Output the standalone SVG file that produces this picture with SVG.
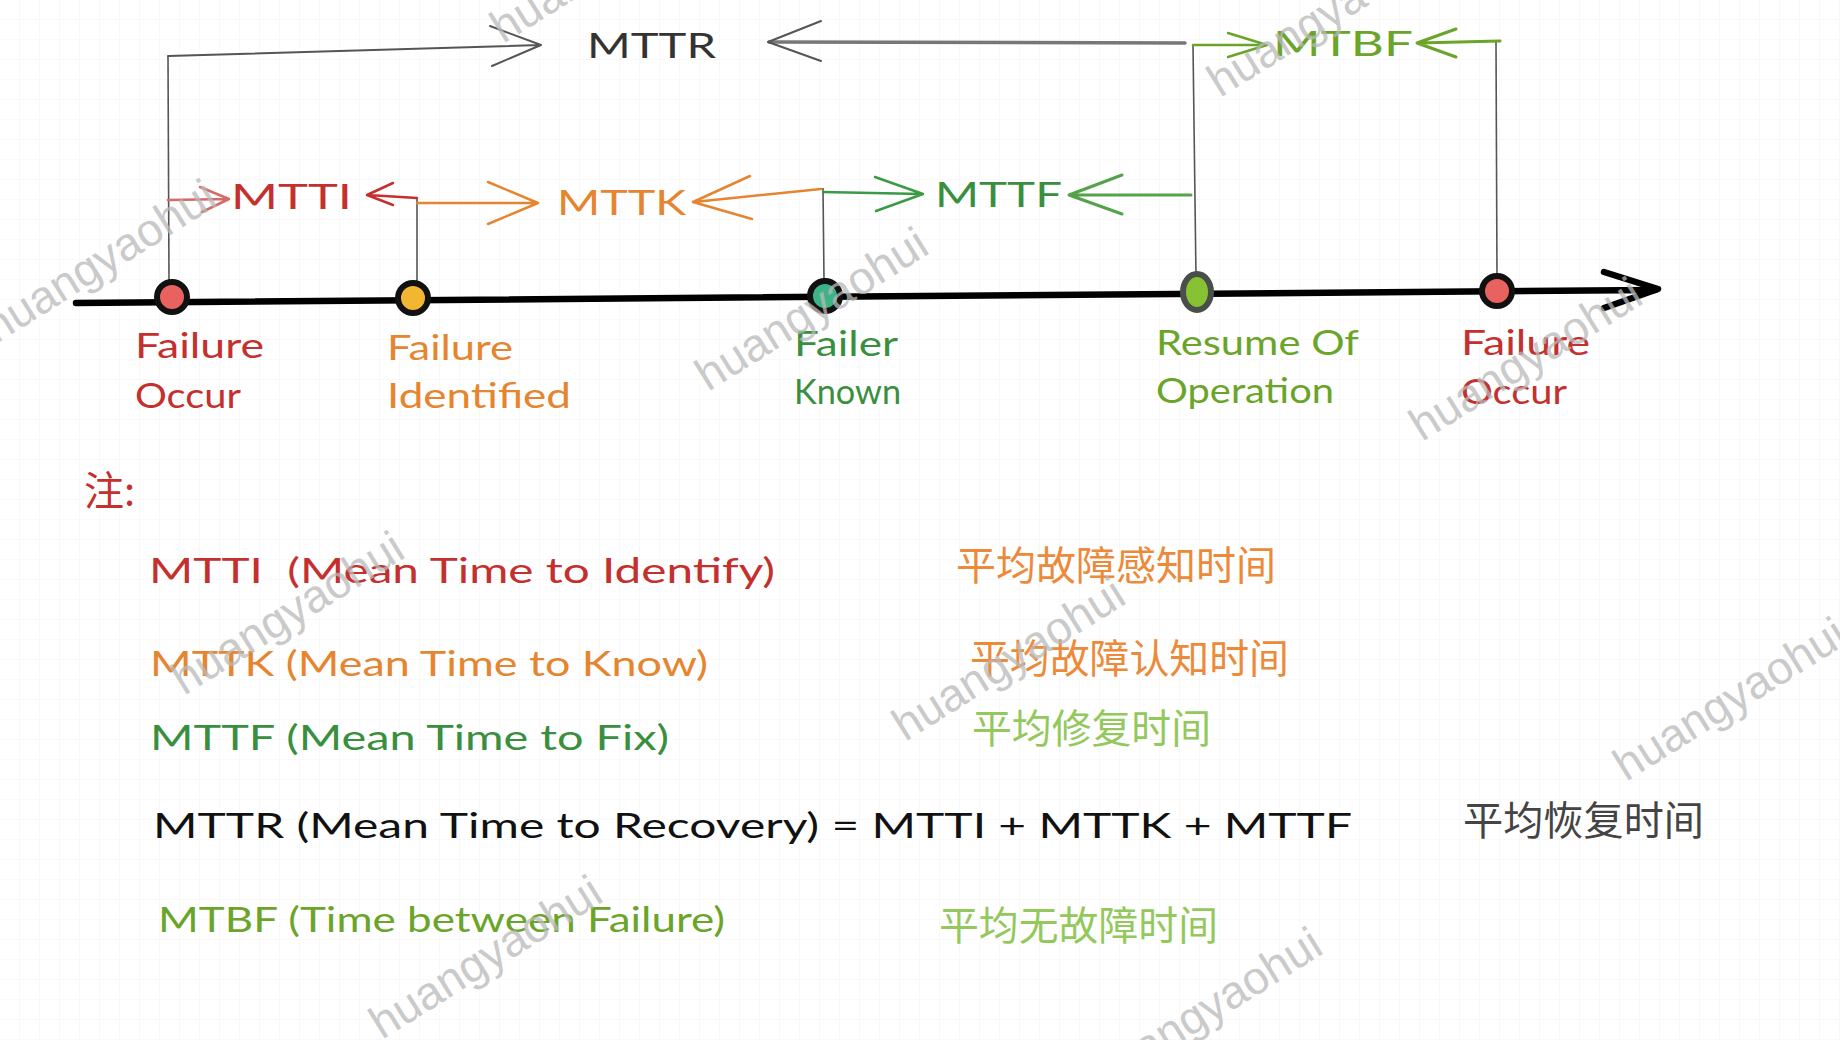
<svg xmlns="http://www.w3.org/2000/svg" width="1840" height="1040" viewBox="0 0 1840 1040">
<defs>
<pattern id="grid" width="20" height="20" patternUnits="userSpaceOnUse">
<path d="M20,0 V20 M0,20 H20" fill="none" stroke="#f3f3f3" stroke-width="1"/>
</pattern>
<style>
.hw{font-family:"Lato","Liberation Sans","Noto Sans",sans-serif;font-size:34px;}
.cn{font-family:"Noto Sans CJK SC","Noto Sans CJK TC",sans-serif;font-size:40px;}
.red{fill:#c4302e;}
.org{fill:#e6852f;}
.grn{fill:#3a8f3f;}
.lime{fill:#6aa52a;}
.ln{fill:none;stroke-linecap:round;stroke-linejoin:round;}
.vl{fill:none;stroke:#555;stroke-width:1.6;}
.wm{font-family:"Liberation Sans",Arial,sans-serif;font-size:46px;fill:#b9b9b9;opacity:0.75;}
</style>
</defs>
<rect width="1840" height="1040" fill="#ffffff"/>
<rect width="1840" height="1040" fill="url(#grid)"/>

<g id="connectors">
<path class="vl" d="M168,56 L169,282"/>
<path class="vl" d="M417,199 L417,282"/>
<path class="vl" d="M823,188 L824,280"/>
<path class="vl" d="M1193,45 L1196,277"/>
<path class="vl" d="M1496,41 L1497,277"/>
<path class="ln" stroke="#555" stroke-width="2" d="M168,56 L540,45 M490,26 L541,45 L492,66"/>
<path class="ln" stroke="#777" stroke-width="3.5" d="M1185,43 L769,42"/>
<path class="ln" stroke="#555" stroke-width="2" d="M821,21 L768,42 L821,61"/>
<path class="ln" stroke="#6aa52a" stroke-width="2.5" d="M1193,45 L1266,45 M1228,33 L1267,45 L1228,57"/>
<path class="ln" stroke="#6aa52a" stroke-width="3" d="M1500,41 L1418,43 M1456,29 L1417,43 L1456,57"/>
<path class="ln" stroke="#d66a68" stroke-width="2.5" d="M168,200 L228,199 M200,187 L229,199 L202,212"/>
<path class="ln" stroke="#c4302e" stroke-width="2.5" d="M417,198 L368,195 M393,183 L367,195 L393,205"/>
<path class="ln" stroke="#e6852f" stroke-width="2.5" d="M417,203 L537,203 M488,182 L538,203 L488,224"/>
<path class="ln" stroke="#e6852f" stroke-width="2.5" d="M821,189 L694,202 M750,176 L693,202 L752,219"/>
<path class="ln" stroke="#3a9a46" stroke-width="2.5" d="M823,192 L922,194 M875,177 L923,194 L876,211"/>
<path class="ln" stroke="#54a24a" stroke-width="3" d="M1191,195 L1070,195 M1122,175 L1069,195 L1122,214"/>
<path class="ln" stroke="#000" stroke-width="6.5" d="M76,303 L1655,290"/>
<path class="ln" stroke="#000" stroke-width="6.5" d="M1604,272 L1658,289 L1604,308"/>
</g>

<g id="node-failure-occur-1">
<circle cx="172" cy="297" r="15" fill="#e8625f" stroke="#111" stroke-width="6"/>
<text class="hw red" x="135" y="358" textLength="129" lengthAdjust="spacingAndGlyphs">Failure</text>
<text class="hw red" x="135" y="408" textLength="106" lengthAdjust="spacingAndGlyphs">Occur</text>
</g>
<g id="node-failure-identified">
<circle cx="413" cy="298" r="15" fill="#f2b632" stroke="#111" stroke-width="6"/>
<text class="hw org" x="387" y="360" textLength="126" lengthAdjust="spacingAndGlyphs">Failure</text>
<text class="hw org" x="387" y="408" textLength="184" lengthAdjust="spacingAndGlyphs">Identified</text>
</g>
<g id="node-failer-known">
<circle cx="825" cy="296" r="15" fill="#3db487" stroke="#111" stroke-width="6"/>
<text class="hw grn" x="794" y="356" textLength="104" lengthAdjust="spacingAndGlyphs">Failer</text>
<text class="hw grn" x="794" y="404" textLength="107" lengthAdjust="spacingAndGlyphs">Known</text>
</g>
<g id="node-resume">
<ellipse cx="1197" cy="292" rx="14" ry="18" fill="#86c232" stroke="#4a4e4a" stroke-width="6"/>
<text class="hw lime" x="1156" y="355" textLength="203" lengthAdjust="spacingAndGlyphs">Resume Of</text>
<text class="hw lime" x="1156" y="403" textLength="178" lengthAdjust="spacingAndGlyphs">Operation</text>
</g>
<g id="node-failure-occur-2">
<circle cx="1497" cy="291" r="15" fill="#e8625f" stroke="#111" stroke-width="6"/>
<text class="hw red" x="1461" y="355" textLength="129" lengthAdjust="spacingAndGlyphs">Failure</text>
<text class="hw red" x="1461" y="404" textLength="106" lengthAdjust="spacingAndGlyphs">Occur</text>
</g>

<g id="labels-top">
<text class="hw" fill="#333" x="587" y="58" textLength="129" lengthAdjust="spacingAndGlyphs">MTTR</text>
<text class="hw lime" x="1273" y="56" textLength="140" lengthAdjust="spacingAndGlyphs">MTBF</text>
<text class="hw red" x="231" y="209" textLength="121" lengthAdjust="spacingAndGlyphs">MTTI</text>
<text class="hw org" x="557" y="215" textLength="129" lengthAdjust="spacingAndGlyphs">MTTK</text>
<text class="hw grn" x="935" y="207" textLength="127" lengthAdjust="spacingAndGlyphs">MTTF</text>
</g>

<g id="notes">
<text class="cn" fill="#c4302e" x="84" y="505" font-size="36">注:</text>
<text class="hw red" x="149" y="583" textLength="626" lengthAdjust="spacingAndGlyphs">MTTI&#160; (Mean Time to Identify)</text>
<text class="cn" fill="#ec8a3a" x="956" y="580" textLength="320" lengthAdjust="spacingAndGlyphs">平均故障感知时间</text>
<text class="hw org" x="150" y="676" textLength="558" lengthAdjust="spacingAndGlyphs">MTTK (Mean Time to Know)</text>
<text class="cn" fill="#ec8a3a" x="970" y="673" textLength="319" lengthAdjust="spacingAndGlyphs">平均故障认知时间</text>
<text class="hw grn" x="150" y="750" textLength="519" lengthAdjust="spacingAndGlyphs">MTTF (Mean Time to Fix)</text>
<text class="cn" fill="#93c85c" x="972" y="743" textLength="239" lengthAdjust="spacingAndGlyphs">平均修复时间</text>
<text class="hw" fill="#111" x="153" y="838" textLength="1199" lengthAdjust="spacingAndGlyphs">MTTR (Mean Time to Recovery) = MTTI + MTTK + MTTF</text>
<text class="cn" fill="#444" x="1463" y="835" textLength="241" lengthAdjust="spacingAndGlyphs">平均恢复时间</text>
<text class="hw lime" x="158" y="932" textLength="567" lengthAdjust="spacingAndGlyphs">MTBF (Time between Failure)</text>
<text class="cn" fill="#93c85c" x="939" y="940" textLength="279" lengthAdjust="spacingAndGlyphs">平均无故障时间</text>
</g>

<g id="watermarks">
<text class="wm" transform="translate(503,44) rotate(-32)">huangyaohui</text>
<text class="wm" transform="translate(-4,344) rotate(-32)">huangyaohui</text>
<text class="wm" transform="translate(708,392) rotate(-32)">huangyaohui</text>
<text class="wm" transform="translate(1220,98) rotate(-32)">huangyaohui</text>
<text class="wm" transform="translate(1422,442) rotate(-32)">huangyaohui</text>
<text class="wm" transform="translate(184,696) rotate(-32)">huangyaohui</text>
<text class="wm" transform="translate(905,742) rotate(-32)">huangyaohui</text>
<text class="wm" transform="translate(1626,782) rotate(-32)">huangyaohui</text>
<text class="wm" transform="translate(382,1040) rotate(-32)">huangyaohui</text>
<text class="wm" transform="translate(1102,1092) rotate(-32)">huangyaohui</text>
</g>
</svg>
